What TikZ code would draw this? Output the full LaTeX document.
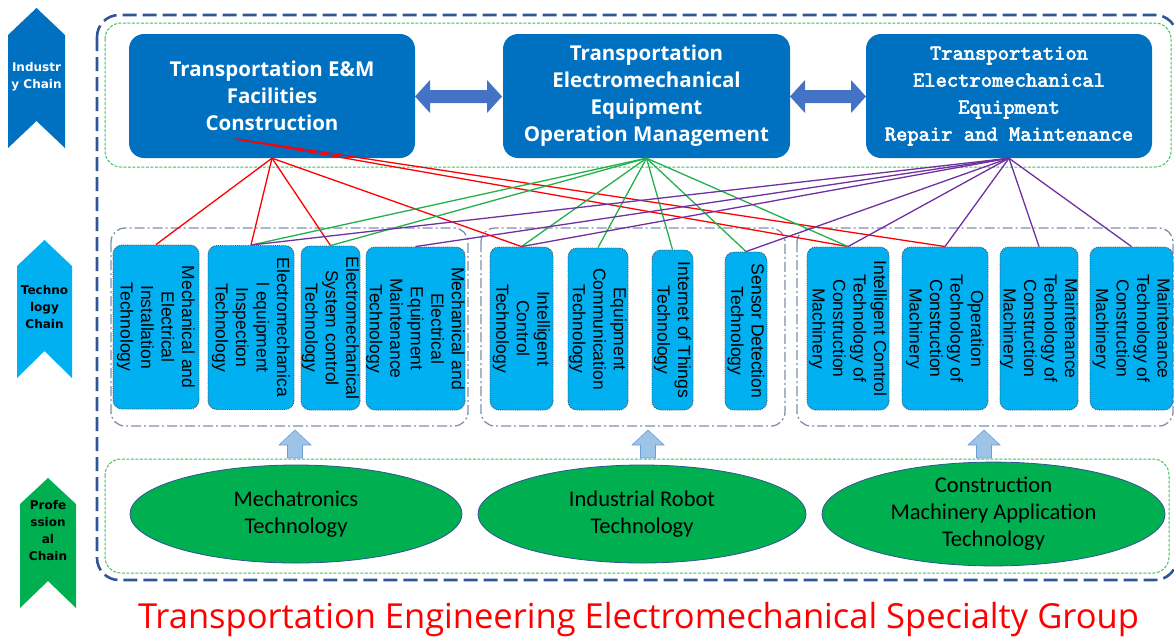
\documentclass[tikz,border=0pt]{standalone}
\usepackage{fontspec}
\setmainfont{Liberation Sans}
\newfontfamily\headfont{Open Sans}
\newfontfamily\ellfont{Carlito}
\newfontfamily\chainfont{DejaVu Sans}
\newfontfamily\repfont{lmmono10-regular.otf}[FakeBold=2.8]
\usetikzlibrary{shapes.geometric}
\definecolor{topblue}{HTML}{0070C0}
\definecolor{arrowblue}{HTML}{4472C4}
\definecolor{techblue}{HTML}{00B0F0}
\definecolor{techedge}{HTML}{44546A}
\definecolor{profgreen}{HTML}{00B050}
\definecolor{outerblue}{HTML}{2F5597}
\definecolor{framegreen}{HTML}{3CC060}
\definecolor{groupgray}{HTML}{7F8FAD}
\definecolor{upfill}{HTML}{9DC3E6}
\definecolor{upedge}{HTML}{6A9FD4}
\definecolor{linkred}{HTML}{FF0000}
\definecolor{linkgreen}{HTML}{22B04B}
\definecolor{linkpurple}{HTML}{7030A0}
\begin{document}
\begin{tikzpicture}[x=1pt,y=-1pt,
  topbox/.style={fill=topblue,rounded corners=15pt,minimum width=286pt,minimum height=124pt,inner sep=0pt,text=white,align=center},
  techbox/.style={draw=techedge,densely dotted,line width=0.9pt,fill=techblue,rounded corners=9pt,rotate=-90,inner sep=0pt,align=center,font=\fontsize{17.5}{20.5}\selectfont},
  profell/.style={ellipse,draw=outerblue,line width=0.8pt,fill=profgreen,minimum height=98pt,inner sep=0pt,align=center,font=\ellfont\fontsize{22.5}{27}\selectfont},
  groupframe/.style={draw=groupgray,line width=1.3pt,rounded corners=14pt,dash pattern=on 10pt off 3pt on 2pt off 3pt},
  greenframe/.style={draw=framegreen,line width=1pt,rounded corners=16pt,dash pattern=on 3pt off 1.5pt},
  chaintext/.style={align=center,inner sep=0pt,font=\chainfont\bfseries\fontsize{12}{17}\selectfont},
  redlink/.style={draw=linkred,line width=1.3pt},
  greenlink/.style={draw=linkgreen,line width=1.3pt},
  purplelink/.style={draw=linkpurple,line width=1.3pt}]
\useasboundingbox (0,0) rectangle (1174,641);
\draw[outerblue,line width=2.6pt,rounded corners=22pt,dash pattern=on 14pt off 6pt] (97,15) rectangle (1177,580);
\draw[greenframe] (105,23) rectangle (1171,167);
\draw[greenframe] (105,459) rectangle (1169,573);
\draw[groupframe] (111,228) rectangle (468,426);
\draw[groupframe] (481,228) rectangle (785,426);
\draw[groupframe] (797,228) rectangle (1173,426);

\fill[topblue] (8,35) -- (36.5,8) -- (65,35) -- (65,148) -- (36.5,121) -- (8,148) -- cycle;
\node[chaintext,text=white] (indchain) at (36.5,77) {Industr\\y Chain};
\fill[techblue] (17,266) -- (44.5,240) -- (72,266) -- (72,378) -- (44.5,351) -- (17,378) -- cycle;
\node[chaintext] (techchain) at (44.5,307) {Techno\\logy\\Chain};
\fill[profgreen] (20,504) -- (48,478) -- (76,504) -- (76,608) -- (48,581) -- (20,608) -- cycle;
\node[chaintext] (profchain) at (48,531) {Profe\\ssion\\al\\Chain};

\node[topbox,font=\headfont\bfseries\fontsize{20.5}{27}\selectfont] (build) at (272,96) {Transportation E\&M\\Facilities\\Construction};
\node[topbox,minimum width=287pt,font=\headfont\bfseries\fontsize{20.5}{27}\selectfont] (operate) at (646.5,96) {Transportation\\Electromechanical\\Equipment\\Operation Management};
\node[topbox,font=\repfont\fontsize{21.5}{27}\selectfont] (repair) at (1009,96) {Transportation\\Electromechanical\\Equipment\\Repair and Maintenance};
\fill[arrowblue] (415,96.5) -- (430,80) -- (430,90) -- (487,90) -- (487,80) -- (502,96.5) -- (487,113) -- (487,103) -- (430,103) -- (430,113) -- cycle;
\fill[arrowblue] (790,96.5) -- (805,80) -- (805,90) -- (851,90) -- (851,80) -- (866,96.5) -- (851,113) -- (851,103) -- (805,103) -- (805,113) -- cycle;

\node[techbox,minimum width=164pt,minimum height=86pt] (instal) at (156,327) {Mechanical and\\Electrical\\Installation\\Technology};
\node[techbox,minimum width=164pt,minimum height=86pt] (inspect) at (251,327.5) {Electromechanica\\l equipment\\Inspection\\Technology};
\node[techbox,minimum width=164pt,minimum height=59pt] (sysctl) at (330.5,328) {Electromechanical\\System control\\Technology};
\node[techbox,minimum width=163pt,minimum height=99pt] (maint) at (415.5,328.5) {Mechanical and\\Electrical\\Equipment\\Maintenance\\Technology};
\node[techbox,minimum width=163pt,minimum height=63pt] (intctl) at (521.5,328.5) {Intelligent\\Control\\Technology};
\node[techbox,minimum width=162pt,minimum height=60pt] (comm) at (598,329) {Equipment\\Communication\\Technology};
\node[techbox,minimum width=160pt,minimum height=41pt] (iot) at (672.5,330) {Internet of Things\\Technology};
\node[techbox,minimum width=158pt,minimum height=42pt] (sensor) at (746,331) {Sensor Detection\\Technology};
\node[techbox,minimum width=163pt,minimum height=82pt] (cmctl) at (848,328.5) {Intelligent Control\\Technology of\\Construction\\Machinery};
\node[techbox,minimum width=163pt,minimum height=86pt] (cmop) at (945,328.5) {Operation\\Technology of\\Construction\\Machinery};
\node[techbox,minimum width=163pt,minimum height=78pt] (cmmaintA) at (1039,328.5) {Maintenance\\Technology of\\Construction\\Machinery};
\node[techbox,minimum width=163pt,minimum height=83pt] (cmmaintB) at (1131.5,328.5) {Maintenance\\Technology of\\Construction\\Machinery};

\foreach \cx in {295,648,984}
  \draw[upedge,fill=upfill,line width=0.6pt] (\cx,430) -- (\cx+16,445) -- (\cx+7.5,445) -- (\cx+7.5,458) -- (\cx-7.5,458) -- (\cx-7.5,445) -- (\cx-16,445) -- cycle;

\node[profell,minimum width=332pt] (mecha) at (296,514) {Mechatronics\\Technology};
\node[profell,minimum width=328pt] (robot) at (642,514) {Industrial Robot\\Technology};
\node[profell,minimum width=343pt] (cmapp) at (993.5,514) {Construction\\Machinery Application\\Technology};

\coordinate (buildin) at (236,139);
\foreach \t in {instal,inspect,sysctl,intctl}
  \draw[redlink] (build.south) -- (\t.west);
\foreach \t in {cmctl,cmop}
  \draw[redlink] (buildin) -- (\t.west);
\foreach \t in {inspect,sysctl,intctl,comm,iot,sensor,cmctl}
  \draw[greenlink] (operate.south) -- (\t.west);
\foreach \t in {inspect,maint,intctl,sensor,cmctl,cmop,cmmaintA,cmmaintB}
  \draw[purplelink] (repair.south) -- (\t.west);

\node[text=linkred,font=\headfont\fontsize{34.5}{40}\selectfont] (title) at (638.5,620) {Transportation Engineering Electromechanical Specialty Group};
\end{tikzpicture}
\end{document}
